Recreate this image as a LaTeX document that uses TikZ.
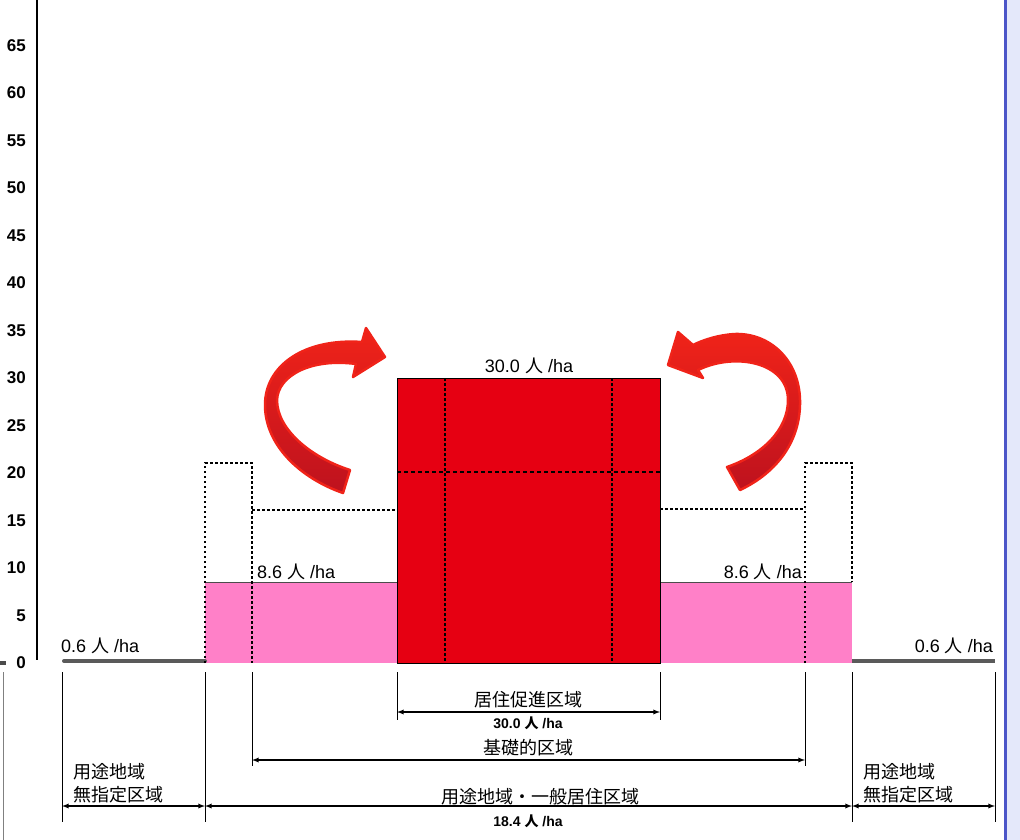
\documentclass[tikz,border=0pt]{standalone}
\usepackage{fontspec}
\setmainfont{Liberation Sans}
\newfontfamily\jp{Noto Sans CJK JP}
\usetikzlibrary{arrows,positioning}
\definecolor{zonered}{RGB}{230,0,18}
\definecolor{zonepink}{RGB}{255,128,200}
\definecolor{arrowred}{RGB}{240,35,25}
\definecolor{arrowdark}{RGB}{190,18,30}
\definecolor{groundgray}{RGB}{90,90,90}
\definecolor{frameblue}{RGB}{75,85,200}
\definecolor{framelight}{RGB}{228,232,250}
\tikzset{
    %Define style for labels
    ratelabel/.style={
           inner sep=1pt,
           font=\fontsize{18}{20}\selectfont},
    smallrate/.style={
           inner sep=1pt,
           font=\fontsize{14}{16}\selectfont\bfseries},
    zonelabel/.style={
           inner sep=1pt,
           align=left,
           font=\jp\fontsize{18}{23}\selectfont},
    axislabel/.style={
           anchor=east,
           inner sep=0pt,
           font=\fontsize{17}{19}\selectfont\bfseries},
    %Define style for lines
    guide/.style={
           black, line width=1.4pt,
           dash pattern=on 2.5pt off 2.5pt},
    extline/.style={
           black, line width=1pt},
    dimline/.style={
           <->, black, line width=1.3pt},
    bigarrow/.style={
           top color=arrowred,
           bottom color=arrowdark,
           draw=arrowred, line width=2.5pt,
           line join=round}
}
\newcommand{\perha}[1]{#1 {\jp 人} /ha}
\def\yzero{663}
\def\yunit{9.5}

\begin{document}
\begin{tikzpicture}[>=latex, x=1pt, y=-1pt]
\useasboundingbox (0,0) rectangle (1020,840);
%frame
\fill[framelight] (1007,0) rectangle (1020,840);
\draw[frameblue, line width=3pt] (1005,0) -- (1005,840);
\draw[gray, line width=0.8pt] (3,672) -- (3,840);
\fill[black!70] (0,661) rectangle (6,665);
%axis
\draw[black, line width=1.5pt] (37,0) -- (37,660);
\foreach \v in {0,5,...,65}
    \node[axislabel] (tick\v) at (26,{\yzero-\yunit*\v}) {\v};
%bars
\fill[zonepink] (205,582) rectangle (397,663);
\fill[zonepink] (660,582) rectangle (852,663);
\draw[black!70, line width=0.6pt] (205,582) -- (397,582);
\draw[black!70, line width=0.6pt] (660,582) -- (852,582);
\draw[black, line width=0.8pt, fill=zonered] (397,378) rectangle (660,663);
\draw[guide, line width=1.2pt] (445,378) -- (445,663);
\draw[guide, line width=1.2pt] (612,378) -- (612,663);
\draw[guide, line width=1.2pt, dash pattern=on 4pt off 3pt] (397,472) -- (660,472);
\draw[groundgray, line width=4pt, line cap=round] (64,661) -- (205,661);
\draw[groundgray, line width=4pt] (852,661) -- (995,661);
%guides
\draw[guide] (205,663) -- (205,463) -- (252,463) -- (252,663);
\draw[guide] (252,510) -- (397,510);
\draw[guide] (660,509) -- (805,509);
\draw[guide] (805,663) -- (805,463) -- (852,463) -- (852,582);
%curved arrows
\draw[bigarrow] (350,470) -- (343,493) .. controls (300,478) and (265,445) .. (265,405) .. controls (265,365) and (305,338) .. (362,342) -- (366,328) -- (385,357) -- (353,377) -- (356,364) .. controls (312,358) and (278,375) .. (277,400) .. controls (277,430) and (312,458) .. (350,470) -- cycle;
\draw[bigarrow] (727,467) -- (740,490) .. controls (778,472) and (801,440) .. (800,400) .. controls (799,360) and (770,333) .. (735,334) .. controls (718,335) and (703,340) .. (693,345) -- (678,332) -- (668,365) -- (703,378) -- (698,370) .. controls (735,352) and (788,362) .. (788,400) .. controls (788,430) and (762,455) .. (727,467) -- cycle;
%rates
\node[ratelabel] (rateCore) at (529,366) {\perha{30.0}};
\node[ratelabel, anchor=west] (rateBaseL) at (256,572) {\perha{8.6}};
\node[ratelabel, anchor=east] (rateBaseR) at (803,572) {\perha{8.6}};
\node[ratelabel, anchor=west] (rateOutL) at (60,646) {\perha{0.6}};
\node[ratelabel, anchor=east] (rateOutR) at (994,646) {\perha{0.6}};
%extension lines
\foreach \x/\yb in {62/822,205/822,252/766,397/720,660/720,805/766,852/822,995/822}
    \draw[extline] (\x,672) -- (\x,\yb);
%dimensions
\coordinate (coreL) at (397,712);
\coordinate (coreR) at (660,712);
\coordinate (baseL) at (252,760);
\coordinate (baseR) at (805,760);
\coordinate (useA) at (62,806);
\coordinate (useB) at (205,806);
\coordinate (useC) at (852,806);
\coordinate (useD) at (995,806);
\draw[dimline] (coreL) -- (coreR);
\draw[dimline] (baseL) -- (baseR);
\draw[dimline] (useA) -- (useB);
\draw[dimline] (useB) -- (useC);
\draw[dimline] (useC) -- (useD);
\node[zonelabel] (coreName) at (528,700) {居住促進区域};
\node[smallrate] (coreRate) at (528,723) {\perha{30.0}};
\node[zonelabel] (baseName) at (528,748) {基礎的区域};
\node[zonelabel] (useName) at (540,797) {用途地域・一般居住区域};
\node[smallrate] (useRate) at (528,821) {\perha{18.4}};
\node[zonelabel, anchor=north west] (outNameL) at (72,762) {用途地域\\無指定区域};
\node[zonelabel, anchor=north west] (outNameR) at (862,762) {用途地域\\無指定区域};
\end{tikzpicture}
\end{document}
